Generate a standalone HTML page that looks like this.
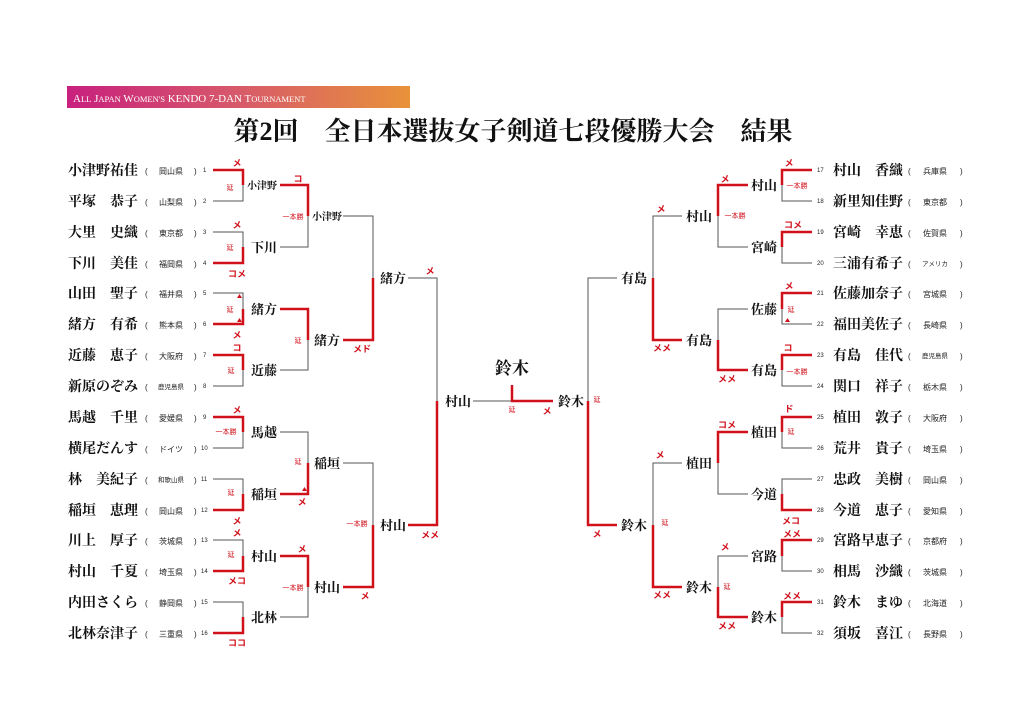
<!DOCTYPE html>
<html><head><meta charset="utf-8">
<style>
html,body{margin:0;padding:0;background:#fff;}
svg{display:block;}
.n{font-family:"Liberation Serif","Noto Serif CJK SC","Noto Sans CJK JP",serif;font-size:14px;font-weight:bold;fill:#111;}
.w{font-family:"Liberation Serif","Noto Serif CJK SC","Noto Sans CJK JP",serif;font-size:13px;font-weight:bold;fill:#111;}
.p{font-family:"Liberation Sans","Noto Sans CJK JP",sans-serif;font-size:8px;fill:#222;}
.pl{font-size:6.5px;}
.num{font-family:"Liberation Sans",sans-serif;font-size:6px;fill:#222;}
.s{font-family:"Liberation Sans","Noto Sans CJK JP",sans-serif;font-size:9px;font-weight:bold;fill:#d0101a;}
.e{font-family:"Liberation Sans","Noto Sans CJK JP",sans-serif;font-size:7px;fill:#d0101a;}
.g{fill:none;stroke:#555;stroke-width:1;}
.r{fill:none;stroke:#d0101a;stroke-width:2.5;}
</style></head><body>
<svg width="1024" height="724" xmlns="http://www.w3.org/2000/svg">
<defs><linearGradient id="hg" x1="0" x2="1"><stop offset="0" stop-color="#c8207e"/><stop offset="0.5" stop-color="#d75a6a"/><stop offset="1" stop-color="#e8923a"/></linearGradient></defs>
<rect x="67" y="86" width="343" height="22" fill="url(#hg)"/>
<text x="73" y="102" font-family="Liberation Serif,serif" font-size="11" fill="#fff">A<tspan font-size="8.5">LL</tspan> J<tspan font-size="8.5">APAN</tspan> W<tspan font-size="8.5">OMEN'S</tspan> KENDO 7-DAN T<tspan font-size="8.5">OURNAMENT</tspan></text>
<text x="513" y="140" text-anchor="middle" font-family="Liberation Serif,Noto Serif CJK SC,serif" font-size="26" font-weight="bold" fill="#111">第2回　全日本選抜女子剣道七段優勝大会　結果</text>

<!-- left players -->
<g class="n">
<text x="68" y="175">小津野祐佳</text><text x="68" y="206">平塚　恭子</text><text x="68" y="237">大里　史織</text><text x="68" y="268">下川　美佳</text>
<text x="68" y="298">山田　聖子</text><text x="68" y="329">緒方　有希</text><text x="68" y="360">近藤　恵子</text><text x="68" y="391">新原のぞみ</text>
<text x="68" y="422">馬越　千里</text><text x="68" y="453">横尾だんす</text><text x="68" y="484">林　美紀子</text><text x="68" y="515">稲垣　恵理</text>
<text x="68" y="545">川上　厚子</text><text x="68" y="576">村山　千夏</text><text x="68" y="607">内田さくら</text><text x="68" y="638">北林奈津子</text>
</g>
<g class="p">
<g>
<text x="145" y="174">(</text><text x="145" y="205">(</text><text x="145" y="236">(</text><text x="145" y="267">(</text><text x="145" y="297">(</text><text x="145" y="328">(</text><text x="145" y="359">(</text><text x="145" y="390">(</text>
<text x="145" y="421">(</text><text x="145" y="452">(</text><text x="145" y="483">(</text><text x="145" y="514">(</text><text x="145" y="544">(</text><text x="145" y="575">(</text><text x="145" y="606">(</text><text x="145" y="637">(</text>
<text x="194" y="174">)</text><text x="194" y="205">)</text><text x="194" y="236">)</text><text x="194" y="267">)</text><text x="194" y="297">)</text><text x="194" y="328">)</text><text x="194" y="359">)</text><text x="194" y="390">)</text>
<text x="194" y="421">)</text><text x="194" y="452">)</text><text x="194" y="483">)</text><text x="194" y="514">)</text><text x="194" y="544">)</text><text x="194" y="575">)</text><text x="194" y="606">)</text><text x="194" y="637">)</text>
</g>
<g text-anchor="middle">
<text x="171" y="174">岡山県</text><text x="171" y="205">山梨県</text><text x="171" y="236">東京都</text><text x="171" y="267">福岡県</text>
<text x="171" y="297">福井県</text><text x="171" y="328">熊本県</text><text x="171" y="359">大阪府</text><text x="171" y="389" class="pl">鹿児島県</text>
<text x="171" y="421">愛媛県</text><text x="171" y="452">ドイツ</text><text x="171" y="482" class="pl">和歌山県</text><text x="171" y="514">岡山県</text>
<text x="171" y="544">茨城県</text><text x="171" y="575">埼玉県</text><text x="171" y="606">静岡県</text><text x="171" y="637">三重県</text>
</g>
</g>
<g class="num">
<text x="203" y="172">1</text><text x="203" y="203">2</text><text x="203" y="234">3</text><text x="203" y="265">4</text>
<text x="203" y="295">5</text><text x="203" y="326">6</text><text x="203" y="357">7</text><text x="203" y="388">8</text>
<text x="203" y="419">9</text><text x="201" y="450">10</text><text x="201" y="481">11</text><text x="201" y="512">12</text>
<text x="201" y="542">13</text><text x="201" y="573">14</text><text x="201" y="604">15</text><text x="201" y="635">16</text>
</g>

<!-- right players -->
<g class="n">
<text x="833" y="175">村山　香織</text><text x="833" y="206">新里知佳野</text><text x="833" y="237">宮崎　幸恵</text><text x="833" y="268">三浦有希子</text>
<text x="833" y="298">佐藤加奈子</text><text x="833" y="329">福田美佐子</text><text x="833" y="360">有島　佳代</text><text x="833" y="391">関口　祥子</text>
<text x="833" y="422">植田　敦子</text><text x="833" y="453">荒井　貴子</text><text x="833" y="484">忠政　美樹</text><text x="833" y="515">今道　恵子</text>
<text x="833" y="545">宮路早恵子</text><text x="833" y="576">相馬　沙織</text><text x="833" y="607">鈴木　まゆ</text><text x="833" y="638">須坂　喜江</text>
</g>
<g class="p">
<g>
<text x="908" y="174">(</text><text x="908" y="205">(</text><text x="908" y="236">(</text><text x="908" y="267">(</text><text x="908" y="297">(</text><text x="908" y="328">(</text><text x="908" y="359">(</text><text x="908" y="390">(</text>
<text x="908" y="421">(</text><text x="908" y="452">(</text><text x="908" y="483">(</text><text x="908" y="514">(</text><text x="908" y="544">(</text><text x="908" y="575">(</text><text x="908" y="606">(</text><text x="908" y="637">(</text>
<text x="960" y="174">)</text><text x="960" y="205">)</text><text x="960" y="236">)</text><text x="960" y="267">)</text><text x="960" y="297">)</text><text x="960" y="328">)</text><text x="960" y="359">)</text><text x="960" y="390">)</text>
<text x="960" y="421">)</text><text x="960" y="452">)</text><text x="960" y="483">)</text><text x="960" y="514">)</text><text x="960" y="544">)</text><text x="960" y="575">)</text><text x="960" y="606">)</text><text x="960" y="637">)</text>
</g>
<g text-anchor="middle">
<text x="935" y="174">兵庫県</text><text x="935" y="205">東京都</text><text x="935" y="236">佐賀県</text><text x="935" y="266" class="pl">アメリカ</text>
<text x="935" y="297">宮城県</text><text x="935" y="328">長崎県</text><text x="935" y="358" class="pl">鹿児島県</text><text x="935" y="390">栃木県</text>
<text x="935" y="421">大阪府</text><text x="935" y="452">埼玉県</text><text x="935" y="483">岡山県</text><text x="935" y="514">愛知県</text>
<text x="935" y="544">京都府</text><text x="935" y="575">茨城県</text><text x="935" y="606">北海道</text><text x="935" y="637">長野県</text>
</g>
</g>
<g class="num">
<text x="817" y="172">17</text><text x="817" y="203">18</text><text x="817" y="234">19</text><text x="817" y="265">20</text>
<text x="817" y="295">21</text><text x="817" y="326">22</text><text x="817" y="357">23</text><text x="817" y="388">24</text>
<text x="817" y="419">25</text><text x="817" y="450">26</text><text x="817" y="481">27</text><text x="817" y="512">28</text>
<text x="817" y="542">29</text><text x="817" y="573">30</text><text x="817" y="604">31</text><text x="817" y="635">32</text>
</g>

<!-- left gray lines -->
<path class="g" d="M213 201H243V185 M213 232H243V247 M213 293H243V309 M213 386H243V370 M213 448H243V432 M213 479H243V494 M213 540H243V556 M213 602H243V617
M280 247H308V216 M280 370H308V340 M280 432H308V463 M280 617H308V587
M343 216H373V278 M343 463H373V525
M408 278H437V401 M473 401H512"/>
<path class="r" d="M213 170H243V185 M213 263H243V247 M213 324H243V309 M213 355H243V370 M213 417H243V432 M213 510H243V494 M213 571H243V556 M213 633H243V617
M280 185H308V216 M280 309H308V340 M280 494H308V463 M280 556H308V587
M343 340H373V278 M343 587H373V525
M408 525H437V401
M553 401H512V385"/>
<path class="g" d="M812 201H782V185 M812 263H782V247 M812 324H782V309 M812 386H782V370 M812 448H782V432 M812 479H782V494 M812 571H782V556 M812 633H782V617
M748 247H718V216 M748 309H718V340 M748 494H718V463 M748 556H718V587
M682 216H653V278 M682 463H653V525
M617 278H588V401"/>
<path class="r" d="M812 170H782V185 M812 232H782V247 M812 293H782V309 M812 355H782V370 M812 417H782V432 M812 510H782V494 M812 540H782V556 M812 602H782V617
M748 185H718V216 M748 370H718V340 M748 432H718V463 M748 617H718V587
M682 340H653V278 M682 587H653V525
M617 525H588V401"/>

<g class="w" text-anchor="end">
<text x="277" y="189" font-size="10">小津野</text><text x="277" y="252">下川</text><text x="277" y="314">緒方</text><text x="277" y="375">近藤</text>
<text x="277" y="437">馬越</text><text x="277" y="499">稲垣</text><text x="277" y="561">村山</text><text x="277" y="622">北林</text>
<text x="342" y="220" font-size="10">小津野</text><text x="340" y="345">緒方</text><text x="340" y="468">稲垣</text><text x="340" y="592">村山</text>
<text x="406" y="283">緒方</text><text x="406" y="530">村山</text>
<text x="471" y="406">村山</text>
</g>
<g class="w">
<text x="558" y="406">鈴木</text>
<text x="621" y="283">有島</text><text x="621" y="530">鈴木</text>
<text x="686" y="221">村山</text><text x="686" y="345">有島</text><text x="686" y="468">植田</text><text x="686" y="592">鈴木</text>
<text x="751" y="190">村山</text><text x="751" y="252">宮崎</text><text x="751" y="314">佐藤</text><text x="751" y="375">有島</text>
<text x="751" y="437">植田</text><text x="751" y="499">今道</text><text x="751" y="561">宮路</text><text x="751" y="622">鈴木</text>
</g>
<text x="512" y="374" text-anchor="middle" font-family="Liberation Serif,Noto Serif CJK SC,serif" font-size="17" font-weight="bold" fill="#111">鈴木</text>

<g class="s" text-anchor="middle">
<text x="237" y="166">メ</text><text x="237" y="228">メ</text><text x="237" y="277">コメ</text><text x="237" y="338">メ</text>
<text x="237" y="351">コ</text><text x="237" y="413">メ</text><text x="237" y="524">メ</text><text x="237" y="536">メ</text><text x="237" y="584">メコ</text><text x="237" y="646">ココ</text>
<text x="298" y="182">コ</text><text x="302" y="505">メ</text><text x="302" y="552">メ</text>
<text x="362" y="352">メド</text><text x="365" y="599">メ</text>
<text x="430" y="274">メ</text><text x="430" y="538">メメ</text>
<text x="547" y="414">メ</text>
<text x="597" y="537">メ</text>
<text x="661" y="212">メ</text><text x="662" y="351">メメ</text><text x="660" y="458">メ</text><text x="662" y="598">メメ</text>
<text x="725" y="182">メ</text><text x="727" y="382">メメ</text><text x="727" y="428">コメ</text><text x="725" y="550">メ</text><text x="727" y="629">メメ</text>
<text x="789" y="166">メ</text><text x="793" y="228">コメ</text><text x="789" y="289">メ</text><text x="788" y="351">コ</text><text x="789" y="412">ド</text><text x="791" y="524">メコ</text><text x="792" y="537">メメ</text><text x="792" y="599">メメ</text>
</g>
<g class="e" text-anchor="middle">
<text x="230" y="190">延</text><text x="230" y="250">延</text><text x="230" y="312">延</text><text x="231" y="373">延</text><text x="226" y="434">一本勝</text><text x="231" y="495">延</text><text x="231" y="557">延</text>
<text x="293" y="219">一本勝</text><text x="298" y="343">延</text><text x="298" y="464">延</text><text x="293" y="590">一本勝</text>
<text x="357" y="526">一本勝</text>
<text x="512" y="412">延</text>
<text x="597" y="402">延</text>
<text x="665" y="525">延</text>
<text x="735" y="218">一本勝</text><text x="727" y="589">延</text>
<text x="797" y="188">一本勝</text><text x="791" y="312">延</text><text x="797" y="374">一本勝</text><text x="791" y="434">延</text>
</g>
<g fill="#d0101a">
<path d="M237 298l2.5 -4l2.5 4z"/><path d="M237 322l2.5 -4l2.5 4z"/><path d="M302 491l2.5 -4l2.5 4z"/><path d="M785 322l2.5 -4l2.5 4z"/>
</g>
</svg>
</body></html>
